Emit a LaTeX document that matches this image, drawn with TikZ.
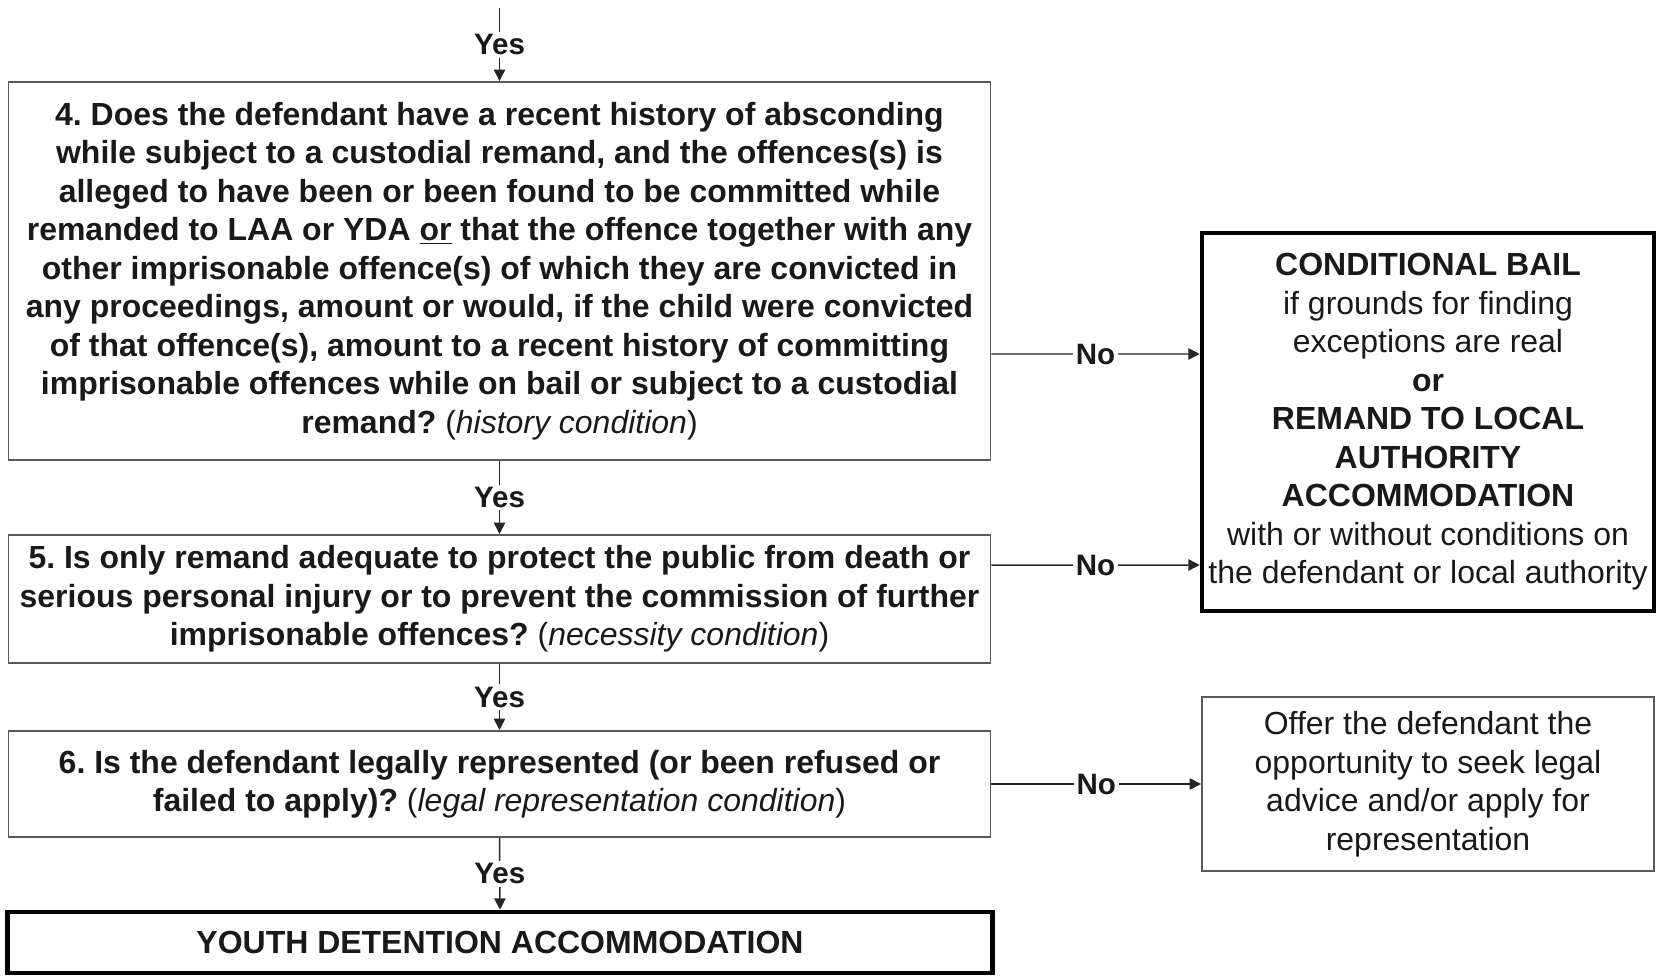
\documentclass[tikz,border=0pt]{standalone}
\usepackage{fontspec}
\setmainfont{Liberation Sans}
\usetikzlibrary{arrows.meta}
\frenchspacing

\begin{document}
\begin{tikzpicture}[font=\fontsize{18.2}{21.9}\selectfont]
\tikzset{
    QB/.style={draw=black!65, line width=1.1pt, align=center,
               minimum width=19.64cm, inner sep=0pt,
               font=\fontsize{18.2}{21.9}\selectfont\bfseries, text=black!90},
    RB/.style={draw=black!65, line width=1.1pt, align=center,
               minimum width=9.04cm, inner sep=0pt, text=black!90},
    TK/.style={draw=black, line width=2.6pt},
    YN/.style={font=\fontsize{16.8}{18}\selectfont\bfseries, fill=white,
               inner sep=1.5pt, text=black!90},
    ARR/.style={draw=black!85, line width=0.85pt,
                -{Triangle[length=6.5pt,width=6.5pt]}},
}
\useasboundingbox (0,0) rectangle (33.12,-19.52);

% Question column
\node[QB, minimum height=7.56cm] (q4) at (9.99, -5.42) {%
  4. Does the defendant have a recent history of absconding\\
  while subject to a custodial remand, and the offences(s) is\\
  alleged to have been or been found to be committed while\\
  remanded to LAA or YDA \underline{or} that the offence together with any\\
  other imprisonable offence(s) of which they are convicted in\\
  any proceedings, amount or would, if the child were convicted\\
  of that offence(s), amount to a recent history of committing\\
  imprisonable offences while on bail or subject to a custodial\\
  remand? \textmd{(\textit{history condition})}};
\node[QB, minimum height=2.56cm] (q5) at (9.99, -11.98) {%
  5. Is only remand adequate to protect the public from death or\\
  serious personal injury or to prevent the commission of further\\
  imprisonable offences? \textmd{(\textit{necessity condition})}};
\node[QB, minimum height=2.12cm] (q6) at (9.99, -15.68) {%
  6. Is the defendant legally represented (or been refused or\\
  failed to apply)? \textmd{(\textit{legal representation condition})}};
\node[QB, TK, minimum width=19.70cm, minimum height=1.22cm] (yda) at (10.00, -18.85)
  {YOUTH DETENTION ACCOMMODATION};

% Outcome column
\node[RB, TK, minimum height=7.56cm] (res) at (28.56, -8.44) {%
  \textbf{CONDITIONAL BAIL}\\
  if grounds for finding\\
  exceptions are real\\
  \textbf{or}\\
  \textbf{REMAND TO LOCAL}\\
  \textbf{AUTHORITY}\\
  \textbf{ACCOMMODATION}\\
  with or without conditions on\\
  the defendant or local authority};
\node[RB, minimum height=3.48cm] (adv) at (28.56, -15.68) {%
  Offer the defendant the\\
  opportunity to seek legal\\
  advice and/or apply for\\
  representation};

%── Yes branches ──────────────────────────────────────────────
\coordinate (top) at (9.99, -0.17);
\draw[ARR] (top) -- node[YN] {Yes} (q4.north);
\draw[ARR] (q4.south) -- node[YN] {Yes} (q5.north);
\draw[ARR] (q5.south) -- node[YN] {Yes} (q6.north);
\draw[ARR] (q6.south) -- node[YN] {Yes} (yda.north);

%── No branches ───────────────────────────────────────────────
\draw[ARR] ([yshift=-1.66cm]q4.east) -- node[YN] {No} ([yshift=1.36cm]res.west);   % y=-7.08
\draw[ARR] ([yshift=0.68cm]q5.east) -- node[YN] {No} ([yshift=-2.86cm]res.west);   % y=-11.30
\draw[ARR] (q6.east) -- node[YN] {No} (adv.west);

\end{tikzpicture}
\end{document}
